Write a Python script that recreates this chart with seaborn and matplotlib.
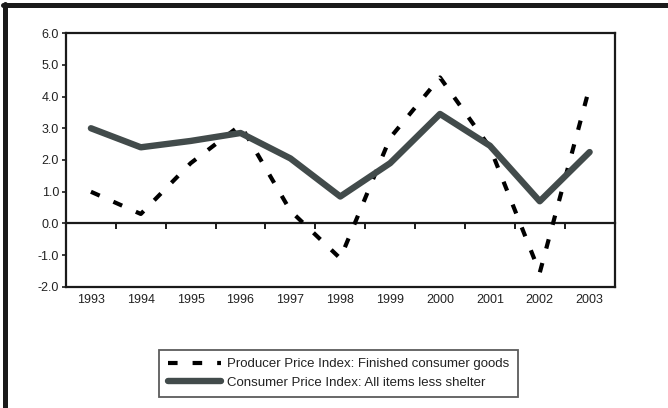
import numpy as np
import pandas as pd
import seaborn as sns
import matplotlib.pyplot as plt
from matplotlib.lines import Line2D
from matplotlib.ticker import FuncFormatter

years = [1993, 1994, 1995, 1996, 1997, 1998, 1999, 2000, 2001, 2002, 2003]
ppi = [1.0, 0.3, 1.9, 3.1, 0.4, -1.1, 2.7, 4.6, 2.4, -1.55, 4.3]
cpi = [3.0, 2.4, 2.6, 2.85, 2.05, 0.85, 1.9, 3.45, 2.45, 0.7, 2.25]
ppi_label = 'Producer Price Index: Finished consumer goods'
cpi_label = 'Consumer Price Index: All items less shelter'
yticks = [-2.0, -1.0, 0.0, 1.0, 2.0, 3.0, 4.0, 5.0, 6.0]

sns.set_style('white')
plt.rcParams['font.family'] = ['Liberation Sans', 'DejaVu Sans']
plt.rcParams['font.size'] = 9

fig = plt.figure(figsize=(6.68, 4.08), dpi=100)
ax = fig.add_axes([0.0988, 0.2966, 0.8212, 0.6225])

sns.lineplot(x=years, y=ppi, ax=ax, color='black', linewidth=3.0,
             linestyle=(0, (2.3, 3.6)), label=ppi_label)
sns.lineplot(x=years, y=cpi, ax=ax, color='#424b4b', linewidth=4.6,
             solid_capstyle='round', label=cpi_label)

ax.set_xlim(years[0] - 0.5, years[-1] + 0.5)
ax.set_ylim(yticks[0], yticks[-1])
ax.set_yticks(yticks)
ax.yaxis.set_major_formatter(FuncFormatter(lambda v, p: '%.1f' % v))
ax.set_xticks(years)
ax.set_xticklabels([str(y) for y in years])
ax.tick_params(axis='x', length=0, pad=5)
ax.tick_params(axis='y', direction='out', length=3, width=1.2, pad=2,
               left=True, color='#1a1a1a')
ax.tick_params(axis='both', labelcolor='#222222', labelsize=9)
for s in ax.spines.values():
    s.set_color('#1a1a1a')
    s.set_linewidth(1.6)

# zero line with ticks between the years
zero_frac = (0 - yticks[0]) / (yticks[-1] - yticks[0])
sec = ax.secondary_xaxis(zero_frac)
sec.set_xticks([y + 0.5 for y in years[:-1]])
sec.set_xticklabels([])
sec.tick_params(direction='out', length=4, width=1.4, color='#1a1a1a')
sec.spines['bottom'].set_linewidth(1.6)
sec.spines['bottom'].set_color('#1a1a1a')

leg = ax.legend(loc='center', bbox_to_anchor=(0.507, 0.085),
                bbox_transform=fig.transFigure, frameon=True, fancybox=False,
                fontsize=9.5, handlelength=4.0, handletextpad=0.5,
                borderpad=0.65, labelspacing=0.45, borderaxespad=0)
leg.get_frame().set_edgecolor('#333333')
leg.get_frame().set_linewidth(1.3)
for t in leg.get_texts():
    t.set_color('#222222')

# outer frame (top and left only)
fig.add_artist(Line2D([0.0075, 0.0075], [0, 0.99], transform=fig.transFigure,
                      color='#1a1a1a', linewidth=3.6))
fig.add_artist(Line2D([0.0045, 1.0], [0.988, 0.988], transform=fig.transFigure,
                      color='#1a1a1a', linewidth=3.6))

fig.savefig('out.png', dpi=100)
